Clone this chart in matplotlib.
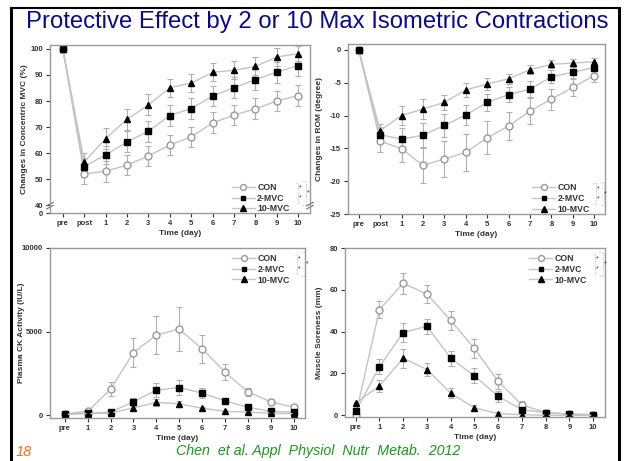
import numpy as np
import matplotlib
matplotlib.use('Agg')
import matplotlib.pyplot as plt

plt.rcParams['font.family'] = 'Liberation Sans'

# ---- data ----
groups = ['CON', '2-MVC', '10-MVC']

# panel 1: concentric MVC (%), x = pre, post, 1..10
mvc_x = ['pre', 'post', '1', '2', '3', '4', '5', '6', '7', '8', '9', '10']
mvc_con = [100, 52, 53, 55.4, 58.9, 63.1, 66.2, 71.6, 74.6, 77, 80, 82.1]
mvc_2 = [100, 54.8, 59.3, 64.3, 68.4, 74.4, 77.1, 81.9, 85.1, 88.2, 91.1, 93.6]
mvc_10 = [100, 56.6, 65.6, 73, 78.5, 85.1, 86.9, 91, 91.8, 93.3, 96.9, 98.2]
mvc_err_con = [0, 4, 4, 4, 4, 4, 4, 4, 4, 4, 4, 4]
mvc_err_2 = [0, 3.5, 3.5, 4, 4, 4, 4, 4, 4, 4, 4, 4]
mvc_err_10 = [0, 3.5, 4, 4, 4, 3.5, 3.5, 3.5, 3.5, 3.5, 3.5, 3]

# panel 2: ROM (degree)
rom_x = mvc_x
rom_con = [0, -13.9, -15.05, -17.6, -16.6, -15.6, -13.4, -11.6, -9.3, -7.5, -5.7, -3.9]
rom_2 = [0, -12.9, -13.6, -13.0, -11.5, -9.9, -8.0, -6.8, -6.0, -4.1, -3.4, -2.7]
rom_10 = [0, -12.3, -10.0, -9.0, -8.0, -6.1, -5.2, -4.4, -3.0, -2.2, -2.0, -1.8]
rom_err_con = [0, 1.7, 2.0, 2.7, 2.7, 2.8, 2.5, 2.2, 2.0, 1.6, 1.3, 1.0]
rom_err_2 = [0, 1.2, 1.7, 1.8, 1.8, 1.5, 1.3, 1.2, 1.2, 1.0, 0.9, 0.8]
rom_err_10 = [0, 1.0, 1.5, 1.5, 1.2, 1.0, 0.9, 0.8, 0.7, 0.6, 0.6, 0.6]

# panel 3: plasma CK (IU/L), x = pre, 1..10
ck_x = ['pre', '1', '2', '3', '4', '5', '6', '7', '8', '9', '10']
ck_con = [100, 250, 1570, 3760, 4800, 5160, 3980, 2590, 1410, 820, 490]
ck_2 = [100, 140, 200, 820, 1510, 1670, 1330, 880, 490, 250, 200]
ck_10 = [60, 100, 140, 450, 780, 700, 430, 250, 200, 140, 100]
ck_err_con = [50, 80, 400, 850, 1150, 1300, 850, 500, 250, 150, 100]
ck_err_2 = [40, 50, 80, 200, 400, 450, 300, 150, 100, 60, 50]
ck_err_10 = [30, 40, 50, 120, 200, 180, 100, 60, 50, 40, 30]

# panel 4: muscle soreness (mm)
ms_x = ck_x
ms_con = [0, 50.5, 63.1, 58, 45.4, 32, 16.2, 5, 1.3, 0.6, 0.3]
ms_2 = [1.9, 23.2, 39.6, 42.6, 27.3, 18.9, 9.1, 2.7, 1.3, 0.6, 0.3]
ms_10 = [6, 14, 27.3, 21.9, 10.6, 3.6, 0.8, 0.3, 0, 0, 0]
ms_err_con = [0.5, 4, 5, 4.5, 4.5, 4.5, 3.5, 2, 1, 0.5, 0.5]
ms_err_2 = [0.5, 3.5, 4.5, 3.5, 3.5, 3.5, 2.5, 1.5, 1, 0.5, 0.5]
ms_err_10 = [0.5, 3, 4.5, 3, 2.5, 1.5, 0.8, 0.5, 0.5, 0.5, 0.5]

linecol = '#c4c4c4'
errcol = '#b0b0b0'
spinecol = '#9a9a9a'
txtcol = '#333333'
styles = [dict(marker='o', mfc='white', mec='#999999', ms=5),
          dict(marker='s', mfc='black', mec='black', ms=4.2),
          dict(marker='^', mfc='black', mec='black', ms=5)]


def panel(ax, xlabels, series, errs, ylabel, ylim, yticks, yticklabels,
          xlim, leg_anchor, star_xy, ylab_x):
    x = np.arange(len(xlabels))
    handles = []
    for vals, err, st, name in zip(series, errs, styles, groups):
        ax.errorbar(x, vals, yerr=err, fmt='none', ecolor=errcol, elinewidth=0.8,
                    capsize=2, capthick=0.8, zorder=1)
        h, = ax.plot(x, vals, color=linecol, lw=1.0, zorder=2, label=name, **st)
        handles.append(h)
    ax.set_xlim(*xlim)
    ax.set_ylim(*ylim)
    ax.set_xticks(x)
    ax.set_xticklabels(xlabels)
    ax.set_yticks(yticks)
    ax.set_yticklabels(yticklabels)
    for sp in ax.spines.values():
        sp.set_color(spinecol)
        sp.set_linewidth(1.0)
    ax.tick_params(direction='out', length=3, width=0.8, color=txtcol,
                   labelsize=5.5, labelcolor=txtcol, pad=2)
    for lab in ax.get_xticklabels() + ax.get_yticklabels():
        lab.set_fontweight('bold')
    ax.set_xlabel('Time (day)', fontsize=6, fontweight='bold', color=txtcol, labelpad=2)
    ax.set_ylabel(ylabel, fontsize=6, fontweight='bold', color=txtcol)
    ax.yaxis.set_label_coords(ylab_x, 0.5)
    leg = ax.legend(handles=handles, loc='upper right', bbox_to_anchor=leg_anchor,
                    frameon=False, prop=dict(size=6.3, weight='bold'),
                    handlelength=2.6, handletextpad=0.3, labelspacing=0.2,
                    borderaxespad=0, markerscale=0.85)
    for t in leg.get_texts():
        t.set_color(txtcol)
    # significance bracket
    sx, sy = star_xy
    d = 0.06
    ax.plot([sx - 0.01, sx, sx, sx - 0.01], [sy, sy, sy - 2 * d, sy - 2 * d],
            transform=ax.transAxes, color='#aaaaaa', lw=0.6, ls=':', clip_on=False)
    ax.plot([sx + 0.015, sx + 0.03, sx + 0.03, sx + 0.015],
            [sy + 0.01, sy + 0.01, sy - 2 * d - 0.01, sy - 2 * d - 0.01],
            transform=ax.transAxes, color='#aaaaaa', lw=0.6, ls=':', clip_on=False)
    for px, py in [(sx + 0.007, sy - d * 0.5), (sx + 0.007, sy - d * 1.5), (sx + 0.037, sy - d)]:
        ax.text(px, py, '*', transform=ax.transAxes, fontsize=5, ha='center',
                va='center', color='#333333')


fig = plt.figure(figsize=(6.24, 4.61), dpi=100)

# slide border
fig.add_artist(plt.Line2D([11 / 624, 11 / 624], [0, 1 - 8 / 461], color='black', lw=2.2))
fig.add_artist(plt.Line2D([619 / 624, 619 / 624], [0, 1 - 8 / 461], color='black', lw=2.2))
fig.add_artist(plt.Line2D([11 / 624, 619 / 624], [1 - 8 / 461, 1 - 8 / 461], color='black', lw=1.5))

fig.text(0.508, 1 - 22 / 461, 'Protective Effect by 2 or 10 Max Isometric Contractions',
         ha='center', va='center', fontsize=17.2, color='#0a0a8a')
fig.text(16 / 624, 1 - 452 / 461, '18', ha='left', va='center', fontsize=10.5,
         style='italic', color='#ff6a10')
fig.text(318 / 624, 1 - 451 / 461, 'Chen  et al. Appl  Physiol  Nutr  Metab.  2012',
         ha='center', va='center', fontsize=10.3, style='italic', color='#1a9a1a')

ax1 = fig.add_axes([50 / 624, 1 - 213 / 461, 260 / 624, 168 / 461])
ax2 = fig.add_axes([348 / 624, 1 - 214 / 461, 257 / 624, 170 / 461])
ax3 = fig.add_axes([50 / 624, 1 - 418 / 461, 255 / 624, 170 / 461])
ax4 = fig.add_axes([345 / 624, 1 - 417 / 461, 260 / 624, 169 / 461])

panel(ax1, mvc_x, [mvc_con, mvc_2, mvc_10], [mvc_err_con, mvc_err_2, mvc_err_10],
      'Changes in Concentric MVC (%)', (37, 101.5),
      [37, 40, 50, 60, 70, 80, 90, 100], ['0', '40', '50', '60', '70', '80', '90', '100'],
      (-0.6, 11.55), (0.935, 0.2), (0.955, 0.18), -0.085)
# axis break marks
for xb in (0, 1):
    for dy in (0.0, 0.018):
        ax1.plot([xb - 0.012, xb + 0.012], [0.025 + dy, 0.045 + dy], transform=ax1.transAxes,
                 color='#666666', lw=0.8, clip_on=False)

panel(ax2, rom_x, [rom_con, rom_2, rom_10], [rom_err_con, rom_err_2, rom_err_10],
      'Changes in ROM (degree)', (-25, 0.9),
      [-25, -20, -15, -10, -5, 0], ['-25', '-20', '-15', '-10', '-5', '0'],
      (-0.5, 11.5), (0.955, 0.2), (0.965, 0.18), -0.097)

panel(ax3, ck_x, [ck_con, ck_2, ck_10], [ck_err_con, ck_err_2, ck_err_10],
      'Plasma CK Activity (IU/L)', (-150, 10000),
      [0, 5000, 10000], ['0', '5000', '10000'],
      (-0.65, 10.5), (0.955, 0.985), (0.97, 0.965), -0.10)

panel(ax4, ms_x, [ms_con, ms_2, ms_10], [ms_err_con, ms_err_2, ms_err_10],
      'Muscle Soreness (mm)', (-0.8, 80),
      [0, 20, 40, 60, 80], ['0', '20', '40', '60', '80'],
      (-0.45, 10.5), (0.945, 0.985), (0.962, 0.965), -0.085)

fig.savefig('out.png', dpi=100)
